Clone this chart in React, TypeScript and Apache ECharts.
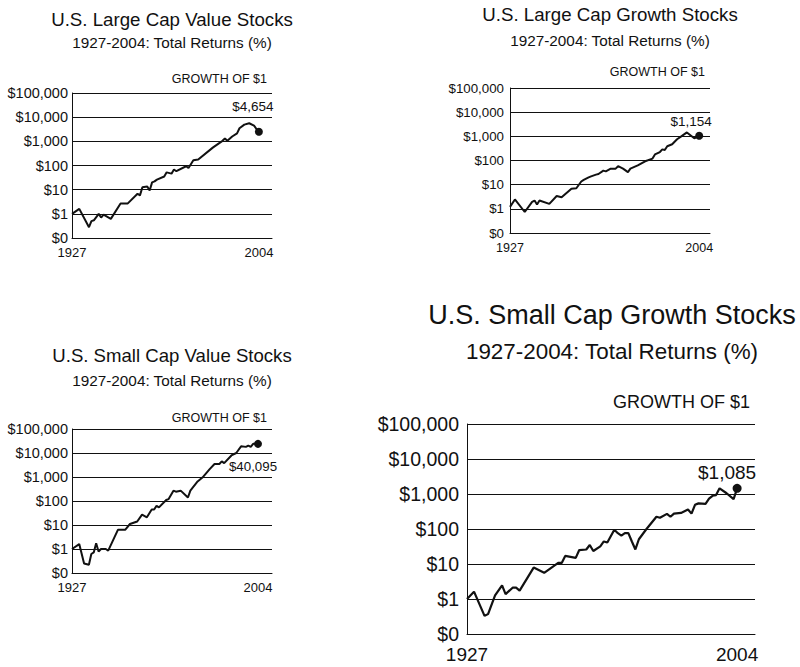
import React, { useEffect, useRef } from 'react';
import * as echarts from 'echarts';

// ---------- data ----------
const lcvYears = [1927, 1930, 1934, 1935, 1936, 1938, 1939, 1940, 1943, 1947, 1950, 1954, 1955, 1956, 1958, 1959, 1960, 1961, 1962, 1965, 1966, 1968, 1969, 1970, 1974, 1975, 1977, 1979, 1985, 1989, 1990, 1991, 1993, 1995, 1996, 1998, 2000, 2002, 2003, 2004];
const lcvValues = [1, 1.6, 0.28, 0.5, 0.54, 1.0, 0.7, 0.93, 0.62, 2.7, 2.7, 6.8, 5.8, 12.6, 13.5, 9.3, 20, 22, 26, 35, 52, 46, 68, 58, 93, 79, 166, 178, 550, 1050, 1320, 1050, 1580, 2140, 3470, 4900, 5600, 4470, 3240, 2500];

const lcgYears = [1927, 1929, 1933, 1936, 1937, 1938, 1939, 1943, 1946, 1948, 1952, 1954, 1956, 1957, 1959, 1960, 1962, 1963, 1965, 1966, 1968, 1970, 1971, 1973, 1975, 1976, 1979, 1982, 1985, 1986, 1988, 1989, 1990, 1991, 1993, 1995, 1997, 1999, 2002, 2004];
const lcgValues = [1.2, 2.45, 0.74, 1.95, 2.2, 1.5, 2.2, 1.6, 3.4, 3.0, 6.8, 7.1, 13.5, 15.8, 20, 22, 26, 27.5, 38, 35.5, 46, 46, 58, 46, 33, 46, 63, 93, 120, 178, 224, 288, 270, 390, 470, 760, 1050, 1450, 830, 1050];

const scvYears = [1927, 1930, 1932, 1934, 1935, 1936, 1937, 1938, 1939, 1941, 1942, 1946, 1949, 1951, 1954, 1956, 1958, 1960, 1961, 1962, 1963, 1966, 1967, 1969, 1970, 1972, 1975, 1976, 1979, 1981, 1984, 1986, 1988, 1989, 1990, 1993, 1995, 1997, 1999, 2000, 2001, 2002, 2004];
const scvValues = [1, 1.6, 0.25, 0.22, 0.62, 0.72, 1.74, 0.78, 1.0, 1.0, 0.85, 6.3, 6.3, 11, 14, 27, 21, 44, 44, 63, 54, 110, 120, 270, 245, 270, 140, 270, 650, 950, 2140, 3470, 3470, 4470, 3800, 7900, 10000, 19000, 18000, 20400, 18000, 24000, 24000];

const scgYears = [1927, 1929, 1932, 1933, 1935, 1937, 1938, 1940, 1941, 1942, 1946, 1949, 1953, 1954, 1955, 1958, 1959, 1961, 1962, 1963, 1965, 1966, 1967, 1969, 1970, 1971, 1972, 1973, 1974, 1975, 1976, 1978, 1981, 1982, 1984, 1985, 1986, 1988, 1990, 1991, 1992, 1993, 1995, 1996, 1997, 1998, 1999, 2001, 2003, 2004];
const scgValues = [1, 1.62, 0.33, 0.37, 1.26, 2.45, 1.38, 2.1, 2.1, 1.74, 7.9, 5.6, 10.7, 10.7, 17, 15, 25, 26, 35, 23.5, 32, 44, 41, 95, 76, 65, 76, 76, 44, 26, 51, 95, 224, 210, 270, 224, 275, 288, 360, 275, 490, 540, 525, 740, 890, 930, 1450, 1050, 710, 1450];

const chartTitles = ['U.S. Large Cap Value Stocks', 'U.S. Large Cap Growth Stocks', 'U.S. Small Cap Value Stocks', 'U.S. Small Cap Growth Stocks'];
const chartSubtitle = '1927-2004: Total Returns (%)';
const growthText = 'GROWTH OF $1';
const endLabels = ['$4,654', '$1,154', '$40,095', '$1,085'];
const xTickYears = [1927, 2004];

const seriesYears = [lcvYears, lcgYears, scvYears, scgYears];
const seriesValues = [lcvValues, lcgValues, scvValues, scgValues];

// ---------- layout ----------
const FONT = '"Liberation Sans", Arial, sans-serif';
const INK = '#111111';

const panels = [
  { left: 72, top: 93, width: 200, height: 145, xMax: 2009.4, yFont: 14.5, xFont: 13, xMargin: 8, yMargin: 4, lineW: 2, sym: 8, lblFont: 13.5, lblOff: [-6, -25],
    title: { x: 172, y: 19.5, size: 18.7 }, sub: { y: 42.5, size: 15.3 }, growth: { x: 267, y: 79, size: 12.5 } },
  { left: 510, top: 88, width: 200, height: 145, xMax: 2008.4, yFont: 13.3, xFont: 12.5, xMargin: 8, yMargin: 6, lineW: 2, sym: 8, lblFont: 13.5, lblOff: [-8, -14],
    title: { x: 610, y: 14, size: 18.7 }, sub: { y: 40, size: 15.3 }, growth: { x: 705, y: 72, size: 12.5 } },
  { left: 72, top: 429, width: 200, height: 144, xMax: 2009.8, yFont: 14.5, xFont: 13, xMargin: 8, yMargin: 4, lineW: 2, sym: 8, lblFont: 13.3, lblOff: [-5, 23],
    title: { x: 172, y: 355, size: 18.6 }, sub: { y: 380, size: 15.3 }, growth: { x: 267, y: 418, size: 12.5 } },
  { left: 467, top: 424, width: 288, height: 210, xMax: 2009.1, yFont: 19.5, xFont: 19, xMargin: 11, yMargin: 8, lineW: 2.2, sym: 9, lblFont: 19, lblOff: [-10, -16],
    title: { x: 612, y: 315, size: 27 }, sub: { y: 351, size: 22.4 }, growth: { x: 750, y: 402, size: 18 } },
];

function fmtDollar(v: number): string {
  if (v < 0.5) return '$0';
  return '$' + Math.round(v).toLocaleString('en-US');
}

function buildOption() {
  const grid: any[] = [];
  const xAxis: any[] = [];
  const yAxis: any[] = [];
  const series: any[] = [];
  const graphic: any[] = [];

  panels.forEach((p, i) => {
    grid.push({ left: p.left, top: p.top, width: p.width, height: p.height, containLabel: false });
    xAxis.push({
      type: 'value', gridIndex: i, min: 1927, max: p.xMax,
      axisLine: { show: true, onZero: false, lineStyle: { color: INK, width: 1 } },
      axisTick: { show: false },
      splitLine: { show: false },
      axisLabel: { customValues: xTickYears, fontSize: p.xFont, fontFamily: FONT, color: INK, margin: p.xMargin, formatter: (v: number) => String(Math.round(v)) },
    });
    yAxis.push({
      type: 'log', logBase: 10, gridIndex: i, min: 0.1, max: 100000, splitNumber: 6,
      axisLine: { show: true, lineStyle: { color: INK, width: 1 } },
      axisTick: { show: false },
      splitLine: { show: true, lineStyle: { color: INK, width: 1 } },
      axisLabel: { fontSize: p.yFont, fontFamily: FONT, color: INK, margin: p.yMargin, formatter: fmtDollar },
    });
    const yrs = seriesYears[i];
    const vals = seriesValues[i];
    const data = yrs.map((y, k) => {
      if (k === yrs.length - 1) {
        return {
          value: [y, vals[k]],
          symbol: 'circle',
          symbolSize: p.sym,
          itemStyle: { color: INK },
          label: {
            show: true, position: 'inside', offset: p.lblOff, formatter: endLabels[i],
            fontSize: p.lblFont, fontFamily: FONT, color: INK, textBorderWidth: 0,
          },
        };
      }
      return [y, vals[k]];
    });
    series.push({
      type: 'line', xAxisIndex: i, yAxisIndex: i, data, symbol: 'none', showSymbol: true,
      lineStyle: { color: INK, width: p.lineW }, itemStyle: { color: INK },
      silent: true, z: 3,
    });

    graphic.push({ type: 'text', x: p.title.x, y: p.title.y, style: { text: chartTitles[i], fontSize: p.title.size, fontFamily: FONT, fill: INK, align: 'center', verticalAlign: 'middle' } });
    graphic.push({ type: 'text', x: p.title.x, y: p.sub.y, style: { text: chartSubtitle, fontSize: p.sub.size, fontFamily: FONT, fill: INK, align: 'center', verticalAlign: 'middle' } });
    graphic.push({ type: 'text', x: p.growth.x, y: p.growth.y, style: { text: growthText, fontSize: p.growth.size, fontFamily: FONT, fill: INK, align: 'right', verticalAlign: 'middle' } });
  });

  return { animation: false, backgroundColor: '#ffffff', grid, xAxis, yAxis, series, graphic };
}

export default function App() {
  const ref = useRef<HTMLDivElement>(null);
  useEffect(() => {
    document.body.style.margin = '0';
    if (!ref.current) return;
    const chart = echarts.init(ref.current, undefined, { renderer: 'svg' });
    chart.setOption(buildOption() as any);
    return () => { chart.dispose(); };
  }, []);
  return <div ref={ref} style={{ width: 800, height: 667 }} />;
}
